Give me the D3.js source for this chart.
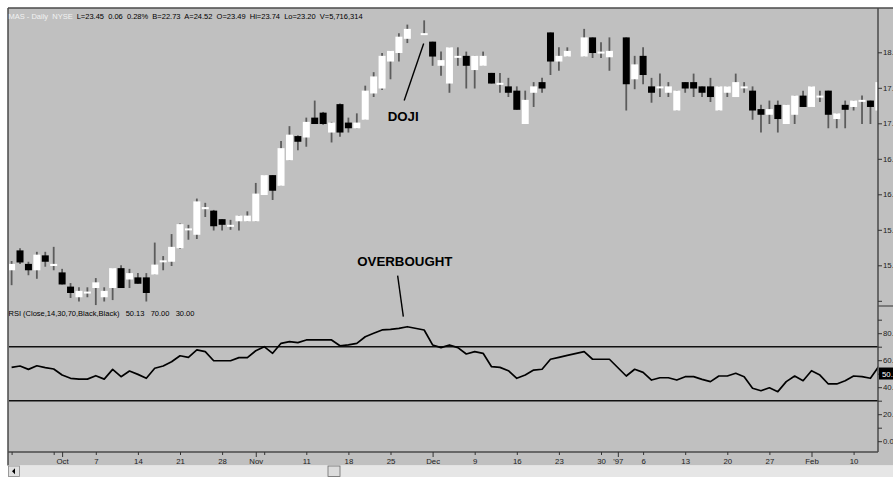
<!DOCTYPE html>
<html>
<head>
<meta charset="utf-8">
<script src="https://cdn.jsdelivr.net/npm/d3@7"></script>
<style>
  body { margin: 0; background: #ffffff; }
  svg { display: block; }
  text { font-family: "Liberation Sans", Arial, sans-serif; }
</style>
</head>
<body>
<svg id="chart" width="893" height="480"></svg>
<script>
// ---- daily bars, one slot per weekday from 23 Sep 1996 (null = market closed) ----
const openPx = [
  14.93, 15.21, 15.02, 14.93, 15.14, 14.99, 14.90, 14.70, 14.55, 14.61,
  14.68, 14.55, 14.68, 14.96, 14.80, 14.83, 14.83, 14.87, 15.05, 15.05,
  15.24, 15.50, 15.43, 15.79, 15.77, 15.65, 15.55, 15.62, 15.62, 15.62,
  15.99, 16.27, 16.12, 16.48, 16.82, 16.80, 17.08, 17.15, 16.87, 17.27,
  17.01, 16.93, 17.05, 17.42, 17.49, 17.87, 17.99, 18.19, null, 18.25,
  18.15, 17.81, 17.56, 17.94, 17.95, 17.75, 17.81, 17.71, 17.56, 17.52,
  17.46, 16.99, 17.43, 17.58, 18.28, 17.87, 17.94, null, 17.94, 18.21,
  17.99, 17.93, null, 18.21, 17.62, 17.95, 17.52, 17.50, 17.43, 17.18,
  17.58, 17.58, 17.52, 17.52, 17.18, 17.43, 17.37, 17.50, 17.46, 17.20,
  17.12, 17.26, 16.99, 17.12, 17.39, 17.23, 17.37, 17.46, 17.06, 17.26,
  17.23, 17.31, 17.32, 17.18
];
const highPx = [
  15.06, 15.24, 15.05, 15.19, 15.19, 15.26, 14.95, 14.75, 14.69, 14.69,
  14.82, 14.69, 14.96, 15.00, 14.95, 14.89, 14.89, 15.32, 15.13, 15.44,
  15.59, 15.57, 15.94, 15.88, 15.78, 15.65, 15.64, 15.70, 15.76, 16.16,
  16.27, 16.27, 16.75, 16.96, 16.83, 17.08, 17.32, 17.16, 17.02, 17.28,
  17.08, 17.14, 17.53, 17.72, 17.99, 18.02, 18.27, 18.39, null, 18.45,
  18.15, 18.01, 18.07, 18.07, 18.01, 17.95, 18.01, 17.71, 17.71, 17.64,
  17.52, 17.46, 17.58, 17.64, 18.28, 18.07, 18.07, null, 18.33, 18.21,
  18.14, 18.21, null, 18.21, 17.95, 18.07, 17.64, 17.70, 17.58, 17.46,
  17.58, 17.70, 17.52, 17.64, 17.52, 17.52, 17.70, 17.58, 17.52, 17.26,
  17.32, 17.32, 17.26, 17.39, 17.46, 17.52, 17.46, 17.46, 17.14, 17.32,
  17.32, 17.39, 17.32, 17.58
];
const lowPx = [
  14.72, 15.02, 14.86, 14.81, 14.98, 14.93, 14.73, 14.54, 14.49, 14.55,
  14.44, 14.49, 14.51, 14.68, 14.68, 14.74, 14.49, 14.87, 14.93, 14.99,
  15.23, 15.36, 15.37, 15.68, 15.49, 15.49, 15.50, 15.49, 15.62, 15.62,
  15.99, 15.92, 16.12, 16.48, 16.62, 16.67, 16.99, 16.98, 16.73, 16.81,
  16.87, 16.93, 17.05, 17.37, 17.47, 17.62, 17.87, 18.13, null, 18.25,
  17.81, 17.67, 17.43, 17.81, 17.49, 17.49, 17.81, 17.56, 17.43, 17.37,
  17.19, 16.99, 17.23, 17.43, 17.68, 17.74, 17.94, null, 17.94, 17.92,
  17.92, 17.74, null, 17.18, 17.48, 17.55, 17.29, 17.37, 17.37, 17.18,
  17.43, 17.37, 17.37, 17.30, 17.18, 17.37, 17.37, 17.43, 17.05, 16.87,
  16.99, 16.87, 16.99, 16.99, 17.23, 17.23, 17.30, 16.93, 16.93, 16.93,
  17.18, 16.99, 16.99, 17.18
];
const closePx = [
  15.02, 15.04, 14.93, 15.15, 15.05, 15.02, 14.73, 14.61, 14.64, 14.63,
  14.76, 14.64, 14.96, 14.68, 14.89, 14.74, 14.61, 15.01, 15.07, 15.26,
  15.58, 15.52, 15.90, 15.82, 15.55, 15.57, 15.57, 15.70, 15.70, 16.01,
  16.27, 16.05, 16.65, 16.84, 16.74, 17.02, 16.99, 16.99, 17.01, 16.87,
  16.93, 17.01, 17.46, 17.66, 17.95, 18.02, 18.22, 18.33, null, 18.27,
  17.94, 17.89, 18.07, 17.95, 17.81, 17.95, 17.95, 17.56, 17.57, 17.43,
  17.19, 17.33, 17.52, 17.49, 17.87, 17.95, 18.02, null, 18.21, 17.99,
  18.01, 18.02, null, 17.55, 17.83, 17.68, 17.43, 17.52, 17.52, 17.46,
  17.49, 17.49, 17.43, 17.37, 17.52, 17.52, 17.58, 17.52, 17.18, 17.12,
  17.20, 17.06, 17.26, 17.39, 17.23, 17.52, 17.39, 17.12, 17.14, 17.19,
  17.32, 17.33, 17.23, 17.58
];
// RSI(Close,14)
const rsiValues = [
  54.7, 55.7, 53.2, 55.9, 54.5, 53.5, 49.0, 46.6, 46.0, 46.0,
  48.5, 46.0, 53.2, 47.8, 52.0, 49.5, 46.6, 54.0, 55.7, 58.9,
  63.3, 62.1, 67.6, 66.3, 59.6, 59.6, 59.6, 61.9, 61.9, 67.0,
  70.0, 65.1, 72.5, 73.7, 73.0, 75.0, 75.0, 75.0, 75.0, 70.7,
  71.3, 72.5, 77.4, 79.9, 82.4, 82.9, 83.6, 84.8, null, 82.4,
  71.3, 69.3, 71.3, 69.3, 64.6, 66.3, 65.1, 55.2, 54.7, 52.2,
  46.6, 49.0, 52.7, 53.3, 60.7, 62.1, 63.6, null, 66.3, 60.7,
  60.7, 60.7, null, 48.3, 53.3, 51.0, 45.3, 47.0, 47.0, 45.3,
  47.8, 47.8, 45.8, 44.1, 48.3, 48.3, 50.3, 47.8, 39.2, 37.4,
  39.6, 36.7, 44.1, 48.3, 44.8, 52.2, 49.0, 42.4, 42.4, 44.8,
  48.3, 47.8, 46.6, 55.5
];
const rsiLast = 50.13;
const rsiBands = [70, 30];

// ---- axis ticks ----
const priceTicks = [18.0, 17.5, 17.0, 16.5, 16.0, 15.5, 15.0, 14.5];
const priceTickLabels = ["18.00", "17.50", "17.00", "16.50", "16.00", "15.50", "15.00", ""];
const rsiTicks = [90, 80, 70, 60, 50, 40, 30, 20, 10, 0];
const rsiTickLabels = ["", "80.00", "", "60.00", "", "40.00", "", "20.00", "", "0.00"];
const dateTicks = ["1996-09-23", "1996-09-30", "1996-10-01", "1996-10-07", "1996-10-14", "1996-10-21",
  "1996-10-28", "1996-11-01", "1996-11-04", "1996-11-11", "1996-11-18", "1996-11-25", "1996-12-02",
  "1996-12-09", "1996-12-16", "1996-12-23", "1996-12-30", "1997-01-01", "1997-01-06", "1997-01-13",
  "1997-01-20", "1997-01-27", "1997-02-03", "1997-02-10"];
const dateTickLabels = ["", "", "Oct", "7", "14", "21", "28", "Nov", "", "11", "18", "25", "Dec",
  "9", "16", "23", "30", "'97", "6", "13", "20", "27", "Feb", "10"];
const monthTicks = ["1996-10-01", "1996-11-01", "1996-12-02", "1997-01-01", "1997-02-03"];

const headerName = "MAS - Daily  NYSE";
const headerQuote = "L=23.45  0.06  0.28%  B=22.73  A=24.52  O=23.49  Hi=23.74  Lo=23.20  V=5,716,314";
const rsiTitle = "RSI (Close,14,30,70,Black,Black)   " + rsiLast.toFixed(2) + "   " +
  rsiBands[0].toFixed(2) + "   " + rsiBands[1].toFixed(2);

// ---- weekday calendar ----
const fmt = d3.timeFormat("%Y-%m-%d");
const slotDates = [];
for (let d = new Date(1996, 8, 23); slotDates.length < openPx.length; d.setDate(d.getDate() + 1)) {
  const wd = d.getDay();
  if (wd > 0 && wd < 6) slotDates.push(fmt(d));
}
const bars = openPx.map((o, i) => ({
  i, o, h: highPx[i], l: lowPx[i], c: closePx[i]
})).filter(b => b.o !== null);
const rsiPts = rsiValues.map((v, i) => ({ i, v })).filter(p => p.v !== null);

// ---- layout ----
const W = 893, H = 480;
const padL = 8, padT = 8, axisX = 878, splitY = 306, baseY = 452, scrollTop = 465.5, scrollBot = 477;
const bg = "#c0c0c0", frame = "#4a4a4a";
const smallFont = 7.5, axisFont = 7.8;

const x = d3.scaleLinear().domain([0, openPx.length - 1]).range([11.6, 11.6 + 8.42 * (openPx.length - 1)]);
const yP = d3.scaleLinear().domain([14.5, 18.0]).range([300.8, 52.3]);
const yR = d3.scaleLinear().domain([0, 100]).range([441.2, 306.2]);

const svg = d3.select("#chart");

// panel background
svg.append("rect").attr("x", 0).attr("y", 0).attr("width", W).attr("height", H).attr("fill", "#ffffff");
svg.append("rect").attr("x", padL).attr("y", padT).attr("width", W - padL).attr("height", scrollTop - padT).attr("fill", bg);

const defs = svg.append("defs");
defs.append("clipPath").attr("id", "clipPrice").append("rect")
  .attr("x", padL + 1).attr("y", padT + 1).attr("width", axisX - padL - 1).attr("height", splitY - padT - 1);
defs.append("clipPath").attr("id", "clipRsi").append("rect")
  .attr("x", padL + 1).attr("y", splitY).attr("width", axisX - padL - 1).attr("height", baseY - splitY);

// ---- candlesticks ----
const bodyW = 7;
const gP = svg.append("g").attr("clip-path", "url(#clipPrice)");
gP.selectAll("line.wick").data(bars).join("line")
  .attr("class", "wick")
  .attr("x1", d => x(d.i)).attr("x2", d => x(d.i))
  .attr("y1", d => yP(d.h)).attr("y2", d => yP(d.l))
  .attr("stroke", "#5c5c5c").attr("stroke-width", 1.8);
gP.selectAll("rect.body").data(bars).join("rect")
  .attr("class", "body")
  .attr("x", d => x(d.i) - bodyW / 2)
  .attr("width", bodyW)
  .attr("y", d => yP(Math.max(d.o, d.c)))
  .attr("height", d => Math.max(2, Math.abs(yP(d.o) - yP(d.c))))
  .attr("fill", d => d.c >= d.o ? "#ffffff" : "#000000");

// ---- RSI pane ----
const gR = svg.append("g").attr("clip-path", "url(#clipRsi)");
gR.selectAll("line.band").data(rsiBands).join("line")
  .attr("class", "band")
  .attr("x1", padL).attr("x2", axisX)
  .attr("y1", d => yR(d)).attr("y2", d => yR(d))
  .attr("stroke", "#111").attr("stroke-width", 1.6);
gR.append("path").datum(rsiPts)
  .attr("fill", "none").attr("stroke", "#000").attr("stroke-width", 1.7)
  .attr("stroke-linejoin", "round")
  .attr("d", d3.line().x(d => x(d.i)).y(d => yR(d.v)));

// ---- frame ----
svg.append("line").attr("x1", padL).attr("x2", W).attr("y1", padT).attr("y2", padT)
  .attr("stroke", frame).attr("stroke-width", 1.5);
svg.append("line").attr("x1", padL).attr("x2", padL).attr("y1", padT).attr("y2", scrollTop)
  .attr("stroke", frame).attr("stroke-width", 1.5);
svg.append("line").attr("x1", axisX).attr("x2", axisX).attr("y1", padT).attr("y2", baseY)
  .attr("stroke", frame).attr("stroke-width", 1.5);
svg.append("line").attr("x1", axisX).attr("x2", W).attr("y1", splitY).attr("y2", splitY)
  .attr("stroke", frame).attr("stroke-width", 1.2);
svg.append("line").attr("x1", padL).attr("x2", axisX).attr("y1", baseY).attr("y2", baseY)
  .attr("stroke", frame).attr("stroke-width", 1.6);

// ---- right axes (labels run off the window edge, as on the trading screen) ----
function styleAxis(g) {
  g.select(".domain").remove();
  g.selectAll(".tick line").attr("stroke", "#333").attr("stroke-width", 1);
  g.selectAll(".tick text").attr("fill", "#222").attr("font-size", axisFont)
    .attr("font-family", "'Liberation Sans', Arial, sans-serif");
}
svg.append("g").attr("transform", `translate(${axisX},0)`)
  .call(d3.axisRight(yP).tickValues(priceTicks).tickSize(4).tickPadding(1)
    .tickFormat((d, i) => priceTickLabels[i]))
  .call(styleAxis);
svg.append("g").attr("transform", `translate(${axisX},0)`)
  .call(d3.axisRight(yR).tickValues(rsiTicks).tickSize(4).tickPadding(1)
    .tickFormat((d, i) => rsiTickLabels[i]))
  .call(styleAxis);

// current RSI value flag
const flag = svg.append("g").attr("transform", `translate(${axisX + 1},${yR(rsiLast)})`);
flag.append("rect").attr("x", 0).attr("y", -6).attr("width", W - axisX).attr("height", 12).attr("fill", "#000");
flag.append("text").attr("x", 3).attr("y", 3).attr("fill", "#fff").attr("font-size", axisFont)
  .text(rsiLast.toFixed(2));

// ---- date axis ----
const tickIdx = dateTicks.map(d => slotDates.indexOf(d));
const gX = svg.append("g").attr("transform", `translate(0,${baseY})`)
  .call(d3.axisBottom(x).tickValues(tickIdx).tickSize(3).tickPadding(3)
    .tickFormat((d, i) => dateTickLabels[i]));
gX.select(".domain").remove();
gX.selectAll(".tick line")
  .attr("stroke", "#333")
  .attr("y2", (d, i) => monthTicks.includes(dateTicks[i]) ? 5 : 3);
gX.selectAll(".tick text").attr("fill", "#222").attr("font-size", axisFont)
  .attr("font-family", "'Liberation Sans', Arial, sans-serif");

// ---- scroll bar ----
svg.append("rect").attr("x", padL).attr("y", scrollTop).attr("width", W - padL).attr("height", scrollBot - scrollTop)
  .attr("fill", "#e6e6e6");
svg.append("rect").attr("x", padL + 0.5).attr("y", scrollTop + 0.5).attr("width", 11).attr("height", scrollBot - scrollTop - 1)
  .attr("fill", "#e0e0e0").attr("stroke", "#888").attr("stroke-width", 0.8);
svg.append("path").attr("d", `M${padL + 4},${(scrollTop + scrollBot) / 2} l3,-3 v6 z`).attr("fill", "#000");
svg.append("rect").attr("x", 328).attr("y", scrollTop + 0.5).attr("width", 12).attr("height", scrollBot - scrollTop - 1)
  .attr("fill", "#dcdcdc").attr("stroke", "#6a6a6a").attr("stroke-width", 0.8);

// ---- header texts ----
svg.append("text").attr("x", 8.5).attr("y", 19).attr("font-size", smallFont)
  .attr("fill", "#f2f2f2").style("white-space", "pre").text(headerName);
svg.append("text").attr("x", 76.7).attr("y", 19).attr("font-size", smallFont)
  .attr("fill", "#000").style("white-space", "pre").text(headerQuote);

svg.append("text").attr("x", 8.5).attr("y", 316).attr("font-size", smallFont).attr("fill", "#000")
  .style("white-space", "pre").text(rsiTitle);

// ---- annotations ----
const dojiIdx = 49;
const dojiX = x(dojiIdx), dojiY = yP(lowPx[dojiIdx]);
svg.append("line").attr("x1", dojiX - 0.5).attr("y1", dojiY + 9).attr("x2", dojiX - 20).attr("y2", dojiY + 66)
  .attr("stroke", "#000").attr("stroke-width", 1.4);
svg.append("text").attr("x", dojiX - 21).attr("y", dojiY + 86).attr("text-anchor", "middle")
  .attr("font-size", 13.3).attr("font-weight", "bold").attr("fill", "#000").text("DOJI");

const obIdx = 47;
const obX = x(obIdx), obY = yR(rsiValues[obIdx]);
svg.append("line").attr("x1", obX - 4).attr("y1", obY - 10).attr("x2", obX - 9.7).attr("y2", obY - 51)
  .attr("stroke", "#000").attr("stroke-width", 1.4);
svg.append("text").attr("x", obX - 2.5).attr("y", obY - 61).attr("text-anchor", "middle")
  .attr("font-size", 13.3).attr("font-weight", "bold").attr("fill", "#000").text("OVERBOUGHT");
</script>
</body>
</html>
